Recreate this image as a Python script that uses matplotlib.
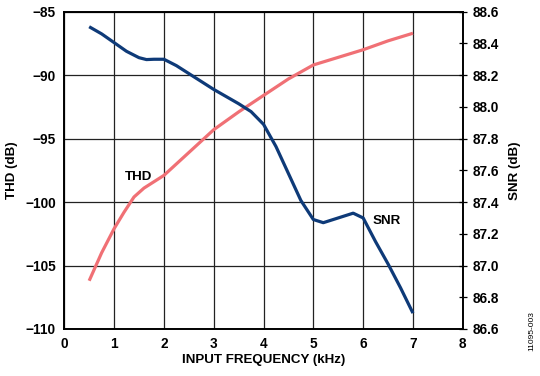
# THD and SNR vs input frequency, redrawn from the datasheet figure
import matplotlib.pyplot as plt

plt.rcParams['font.family'] = ['Liberation Sans', 'DejaVu Sans']
plt.rcParams['font.weight'] = 'bold'

# THD curve (left axis, dB)
thd_freq = [0.5, 0.75, 1.0, 1.2, 1.4, 1.6, 1.8, 2.0, 2.5, 3.0, 3.5, 4.0, 4.5, 5.0, 5.5, 6.0, 6.5, 7.0]
thd_db = [-106.2, -104.0, -102.1, -100.8, -99.6, -98.9, -98.4, -97.9, -96.1, -94.3, -92.9, -91.6,
          -90.3, -89.2, -88.6, -88.0, -87.3, -86.7]

# SNR curve (right axis, dB)
snr_freq = [0.5, 0.75, 1.0, 1.25, 1.5, 1.65, 1.8, 2.0, 2.25, 2.5, 3.0, 3.5, 3.75, 4.0, 4.25, 4.5,
            4.75, 5.0, 5.2, 5.5, 5.8, 6.0, 6.25, 6.5, 6.75, 7.0]
snr_db = [88.505, 88.46, 88.405, 88.35, 88.31, 88.298, 88.30, 88.30, 88.26, 88.21, 88.11, 88.02,
          87.97, 87.89, 87.75, 87.58, 87.41, 87.29, 87.27, 87.30, 87.33, 87.30, 87.15, 87.01,
          86.86, 86.70]

x_ticks = [0, 1, 2, 3, 4, 5, 6, 7, 8]
thd_ticks = [-110, -105, -100, -95, -90, -85]
snr_ticks = [86.6, 86.8, 87.0, 87.2, 87.4, 87.6, 87.8, 88.0, 88.2, 88.4, 88.6]

fig = plt.figure(figsize=(5.4, 3.76), dpi=100)
ax = fig.add_axes([0.119, 0.125, 0.738, 0.844])
ax2 = ax.twinx()

ax.plot(thd_freq, thd_db, color='#F07075', lw=2.3, solid_capstyle='butt')
ax2.plot(snr_freq, snr_db, color='#0E3A78', lw=2.3, solid_capstyle='butt')

ax.set_xlim(0, 8)
ax.set_ylim(-110, -85)
ax2.set_ylim(86.6, 88.6)
ax.set_xticks(x_ticks)
ax.set_yticks(thd_ticks)
ax2.set_yticks(snr_ticks)
ax2.set_yticklabels([f'{v:.1f}' for v in snr_ticks])

ax.grid(True, color='#222222', lw=0.9)
ax.tick_params(length=0, labelsize=9.8, pad=6)
ax2.tick_params(axis='y', direction='inout', length=6, width=0.9, labelsize=9.8, pad=4)

for a in (ax, ax2):
    for s in a.spines.values():
        s.set_linewidth(1.2)
        s.set_color('black')

ax.set_xlabel('INPUT FREQUENCY (kHz)', fontsize=9.6, fontweight='bold', labelpad=2)
ax.set_ylabel('THD (dB)', fontsize=9.6, fontweight='bold', labelpad=5)
ax2.set_ylabel('SNR (dB)', fontsize=9.6, fontweight='bold', labelpad=7)

ax.text(1.5, -98.0, 'THD', fontsize=9.6, fontweight='bold', ha='center', va='center')
ax2.text(6.47, 87.28, 'SNR', fontsize=9.6, fontweight='bold', ha='center', va='center')

fig.text(0.985, 0.12, '11095-003', rotation=90, fontsize=6, fontweight='normal',
         ha='center', va='center')

fig.savefig('out.png', dpi=100)
